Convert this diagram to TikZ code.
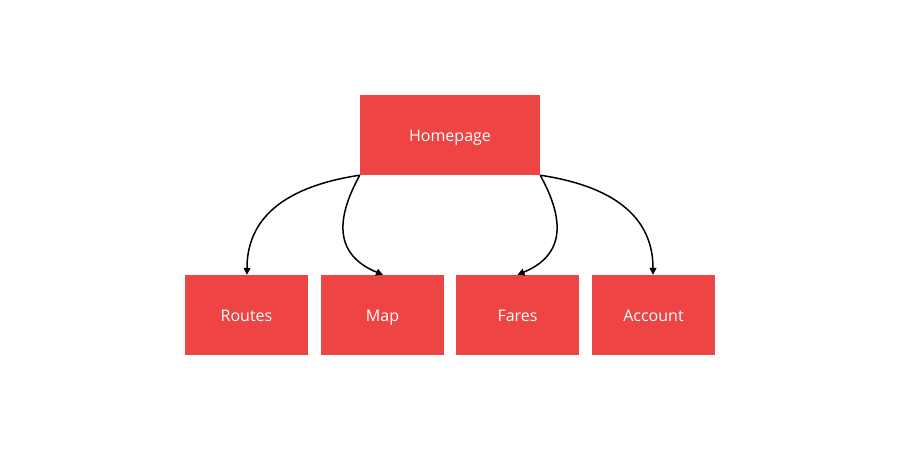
\documentclass[tikz,border=0pt]{standalone}
\usepackage{fontspec}
\setmainfont{Open Sans}
\usetikzlibrary{arrows.meta}
\definecolor{boxred}{HTML}{EF4444}
\tikzset{
  pagebox/.style={fill=boxred, draw=none, text=white, font=\fontsize{16}{19}\selectfont, inner sep=0pt, text height=13pt, text depth=1pt},
  link/.style={line width=1.5pt, -{Triangle[length=7pt,width=7pt]}, black}
}
\begin{document}
\begin{tikzpicture}[x=1pt,y=-1pt]
\useasboundingbox (0,0) rectangle (900,450);
\node[pagebox, minimum width=180pt, minimum height=80pt] (home) at (450,135) {Homepage};
\node[pagebox, minimum width=123pt, minimum height=80pt] (routes) at (246.5,315) {Routes};
\node[pagebox, minimum width=123pt, minimum height=80pt] (map) at (382.5,315) {Map};
\node[pagebox, minimum width=123pt, minimum height=80pt] (fares) at (517.5,315) {Fares};
\node[pagebox, minimum width=123pt, minimum height=80pt] (account) at (653.5,315) {Account};
\draw[link] (home.south west) .. controls (275,188) and (247,225) .. ([xshift=0.5pt]routes.north);
\draw[link] (home.south west) .. controls (335,220) and (335,255) .. ([xshift=0.5pt]map.north);
\draw[link] (home.south east) .. controls (565,220) and (565,255) .. (fares.north);
\draw[link] (home.south east) .. controls (625,188) and (653,225) .. ([xshift=-0.5pt]account.north);
\end{tikzpicture}
\end{document}
